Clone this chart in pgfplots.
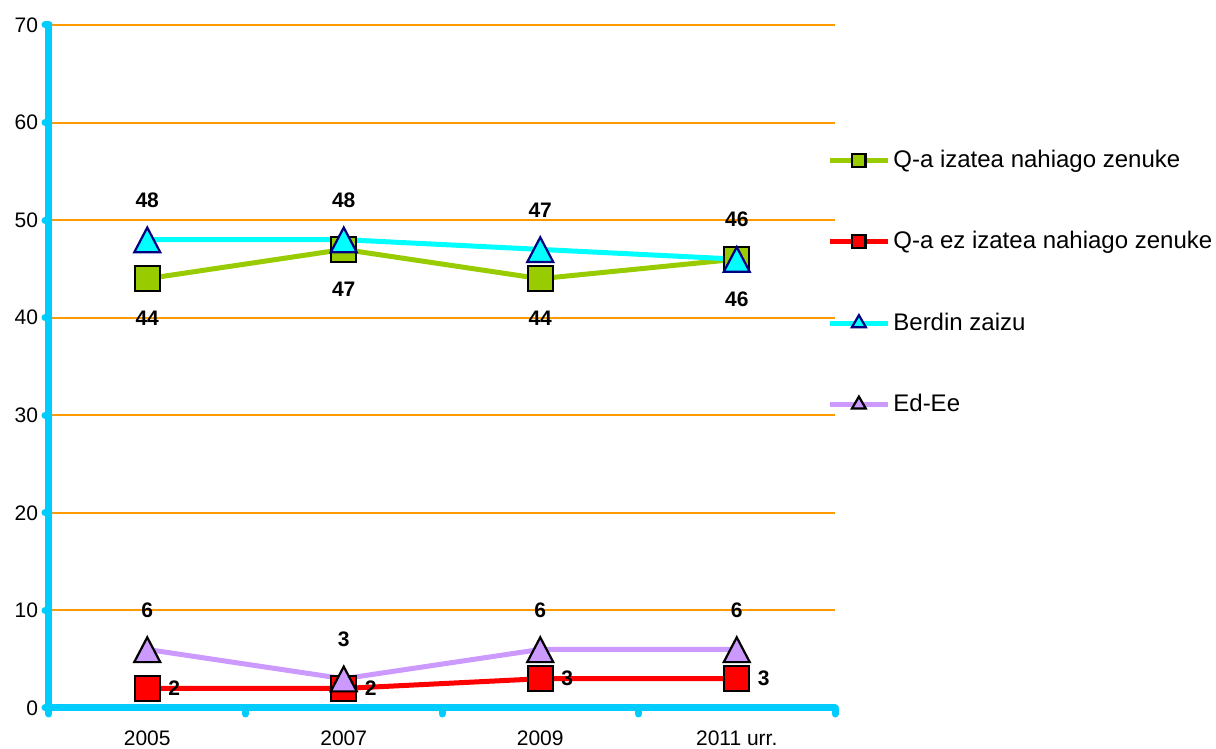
\documentclass[border=0pt]{standalone}
\usepackage{pgfplots}
\pgfplotsset{compat=1.18}
\usepackage{fontspec}
\setmainfont{Liberation Sans}
\definecolor{axblue}{HTML}{00CCFF}
\definecolor{gridor}{HTML}{FF9900}
\definecolor{qgreen}{HTML}{99CC00}
\definecolor{qred}{HTML}{FF0000}
\definecolor{qcyan}{HTML}{00FFFF}
\definecolor{qpurple}{HTML}{CC99FF}
\definecolor{navyb}{HTML}{000080}
\begin{document}
\begin{tikzpicture}
\useasboundingbox (-24.5pt,-20.5pt) rectangle (583.5pt,354pt);
\begin{axis}[
  scale only axis, width=393pt, height=341.5pt,
  xmin=-0.5, xmax=3.5, ymin=0, ymax=70,
  axis lines=left,
  axis line style={-, draw=axblue, line width=3.5pt, line cap=round},
  xtick={0,1,2,3}, xticklabels={2005,2007,2009,2011 urr.},
  minor xtick={-0.5,0.5,1.5,2.5,3.5},
  ytick={0,10,...,70},
  tick align=outside,
  major tick length=2pt, minor tick length=3pt,
  every major x tick/.append style={draw=none},
  every minor x tick/.append style={draw=axblue, line width=3.5pt, line cap=round},
  every major y tick/.append style={draw=axblue, line width=3.5pt, line cap=round},
  ymajorgrids,
  major grid style={draw=gridor, line width=1pt},
  tick label style={font=\fontsize{10.5}{12}\selectfont, text=black},
  xticklabel style={yshift=-6pt},
  /pgf/number format/assume math mode=true,
  clip=false,
  legend image code/.code={\draw[mark repeat=2,mark phase=2,#1] plot coordinates {(0pt,0pt)(14.5pt,0pt)(29pt,0pt)};},
  legend style={draw=none, fill=none, at={(axis description cs:1,0.623)}, anchor=west, xshift=-4pt,
    row sep=26.5pt, font=\fontsize{12}{14}\selectfont, inner sep=0pt,
    nodes={inner xsep=1.5pt}},
  legend cell align=left,
]
\addplot[qgreen, line width=2.5pt, mark=square*, mark size=6.25pt,
  mark options={fill=qgreen, draw=black, line width=1.1pt},
  legend image post style={mark size=3.3pt},
  nodes near coords,
  every node near coord/.append style={font=\bfseries\fontsize{10.5}{12}\selectfont, text=black, anchor=center, yshift=-20pt}]
  coordinates {(0,44) (1,47) (2,44) (3,46)};
\addlegendentry{Q-a izatea nahiago zenuke}
\addplot[qred, line width=2.5pt, mark=square*, mark size=6.25pt,
  mark options={fill=qred, draw=black, line width=1.1pt},
  legend image post style={mark size=3.3pt},
  nodes near coords,
  every node near coord/.append style={font=\bfseries\fontsize{10.5}{12}\selectfont, text=black, anchor=center, xshift=13.5pt}]
  coordinates {(0,2) (1,2) (2,3) (3,3)};
\addlegendentry{Q-a ez izatea nahiago zenuke}
\addplot[qcyan, line width=2.5pt, mark=triangle*, mark size=7.5pt,
  mark options={fill=qcyan, draw=navyb, line width=1.1pt, yscale=1.1, yshift=-2pt},
  legend image post style={mark size=4pt, mark options={fill=qcyan, draw=navyb, line width=1.1pt}},
  nodes near coords,
  every node near coord/.append style={font=\bfseries\fontsize{10.5}{12}\selectfont, text=black, anchor=center, yshift=22pt}]
  coordinates {(0,48) (1,48) (2,47) (3,46)};
\addlegendentry{Berdin zaizu}
\addplot[qpurple, line width=2.5pt, mark=triangle*, mark size=7.5pt,
  mark options={fill=qpurple, draw=black, line width=1.1pt, yscale=1.1, yshift=-2pt},
  legend image post style={mark size=4pt, mark options={fill=qpurple, draw=black, line width=1.1pt}},
  nodes near coords,
  every node near coord/.append style={font=\bfseries\fontsize{10.5}{12}\selectfont, text=black, anchor=center, yshift=22pt}]
  coordinates {(0,6) (1,3) (2,6) (3,6)};
\addlegendentry{Ed-Ee}
\end{axis}
\end{tikzpicture}
\end{document}
